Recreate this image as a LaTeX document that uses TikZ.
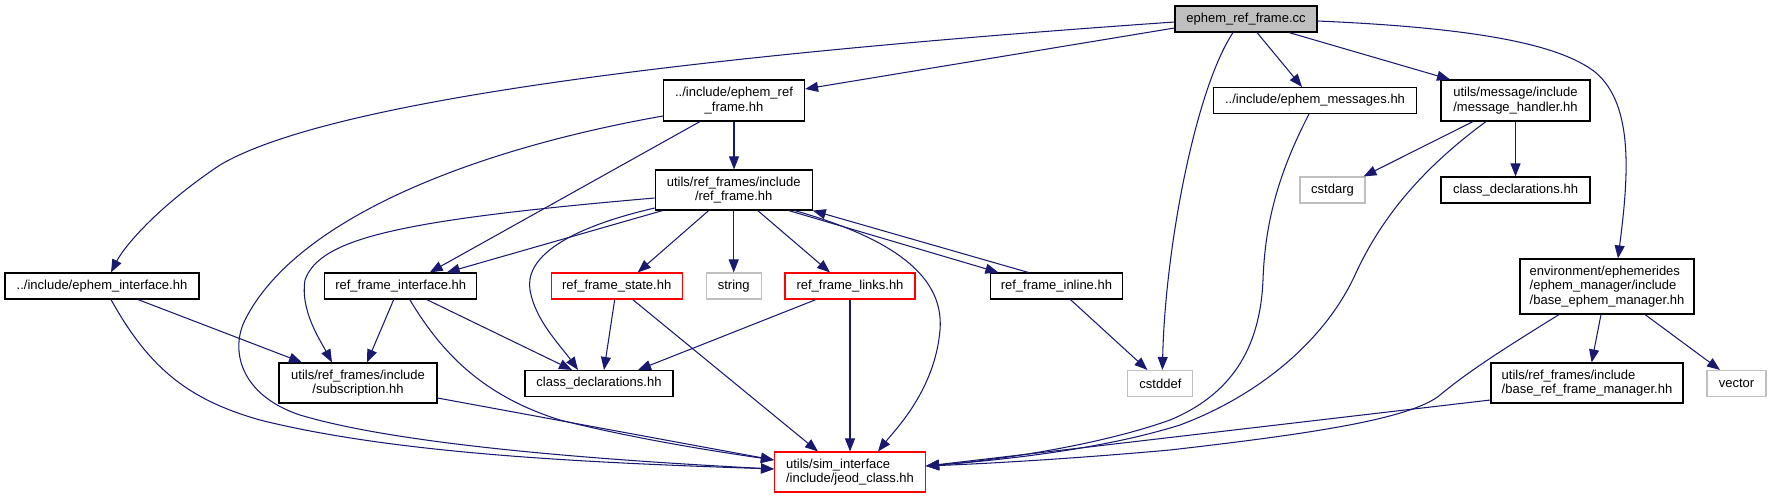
\documentclass[tikz,border=0pt]{standalone}
\usepackage{fontspec}
\setmainfont{Liberation Sans}
\usetikzlibrary{arrows.meta}
\definecolor{edgeblue}{RGB}{25,25,112}
\definecolor{extgray}{RGB}{191,191,191}

\begin{document}
\begin{tikzpicture}[x=1pt, y=-1pt,
    box/.style={draw=black, fill=white, line width=1.1pt, inner sep=0pt, font=\fontsize{13}{14.6}\selectfont, minimum height=26pt},
    rootbox/.style={box, fill=extgray},
    extbox/.style={box, draw=extgray},
    truncbox/.style={box, draw=red},
    arrow/.style={-{Triangle[length=13pt, width=10pt]}, draw=edgeblue, line width=1.05pt}
  ]
    \useasboundingbox (0,0) rectangle (1771,499);
    \node[rootbox, minimum width=142pt] (root) at (1246,19) {ephem\_ref\_frame.cc};
    \node[box, minimum width=141pt, minimum height=41pt, align=center] (erfhh) at (734,100.5) {../include/ephem\_ref\\\_frame.hh};
    \node[box, minimum width=203pt] (emsg) at (1315,100.5) {../include/ephem\_messages.hh};
    \node[box, minimum width=149pt, minimum height=41pt, align=left] (mhandler) at (1515.5,100.5) {utils/message/include\\/message\_handler.hh};
    \node[box, minimum width=157pt, minimum height=40pt, align=center] (rfhh) at (733.7,190) {utils/ref\_frames/include\\/ref\_frame.hh};
    \node[extbox, minimum width=65pt] (cstdarg) at (1332.5,190) {cstdarg};
    \node[box, minimum width=149pt] (cdeclR) at (1515.5,190) {class\_declarations.hh};
    \node[box, minimum width=194pt] (einter) at (102,286) {../include/ephem\_interface.hh};
    \node[box, minimum width=152pt] (rfinter) at (400.7,286) {ref\_frame\_interface.hh};
    \node[truncbox, minimum width=131pt] (rfstate) at (616.7,286) {ref\_frame\_state.hh};
    \node[extbox, minimum width=55pt] (string) at (733.7,286) {string};
    \node[truncbox, minimum width=130pt] (rflinks) at (850,286) {ref\_frame\_links.hh};
    \node[box, minimum width=132pt] (rfinline) at (1056.4,286) {ref\_frame\_inline.hh};
    \node[box, minimum width=174pt, minimum height=55pt, align=left] (bem) at (1607,286.5) {environment/ephemerides\\/ephem\_manager/include\\/base\_ephem\_manager.hh};
    \node[box, minimum width=158pt, minimum height=40pt, align=center] (subs) at (358,383) {utils/ref\_frames/include\\/subscription.hh};
    \node[box, minimum width=148pt] (cdeclM) at (599,383.5) {class\_declarations.hh};
    \node[extbox, minimum width=65pt] (cstddef) at (1160.4,383.5) {cstddef};
    \node[box, minimum width=192pt, minimum height=40pt, align=left] (bfrm) at (1587,383) {utils/ref\_frames/include\\/base\_ref\_frame\_manager.hh};
    \node[extbox, minimum width=59pt] (vector) at (1736.5,383.5) {vector};
    \node[truncbox, minimum width=151pt, minimum height=40pt, align=left] (jeod) at (850,472) {utils/sim\_interface\\/include/jeod\_class.hh};
    % edges out of the source file
    \draw[arrow] ([yshift=-3pt]root.west) .. controls (700,55) and (330,100) .. (220,165) .. controls (160,205) and (125,245) .. ([xshift=9pt]einter.north);
    \draw[arrow] ([yshift=-9pt]root.west) -- ([yshift=11.5pt]erfhh.east);
    \draw[arrow] ([xshift=-13pt]root.south) .. controls (1195,90) and (1165,250) .. ([xshift=2pt]cstddef.north);
    \draw[arrow] ([xshift=11pt]root.south) -- ([xshift=-13pt]emsg.north);
    \draw[arrow] ([xshift=43pt]root.south) -- ([xshift=-65.5pt]mhandler.north);
    \draw[arrow] ([yshift=-2pt]root.east) .. controls (1480,28) and (1560,45) .. (1595,72) .. controls (1635,105) and (1628,180) .. ([xshift=11pt]bem.north);
    % ephem_ref_frame.hh
    \draw[arrow] (erfhh.south) -- (erfhh.south |- rfhh.north);
    \draw[arrow] ([xshift=-34pt]erfhh.south) -- ([xshift=29pt]rfinter.north);
    \draw[arrow] ([yshift=-15.5pt]erfhh.west) .. controls (470,150) and (295,220) .. (245,320) .. controls (230,350) and (240,395) .. (300,415) .. controls (400,445) and (600,460) .. ([yshift=3pt]jeod.west);
    % ref_frame.hh
    \draw[arrow] ([xshift=8pt]rfhh.south west) -- ([xshift=46pt]rfinter.north);
    \draw[arrow] ([yshift=-8pt]rfhh.west) .. controls (400,220) and (320,238) .. (305,280) .. controls (300,310) and (320,340) .. ([xshift=-26pt]subs.north);
    \draw[arrow] ([yshift=-18pt]rfhh.west) .. controls (560,230) and (525,260) .. (530,290) .. controls (535,320) and (560,345) .. ([xshift=-21pt]cdeclM.north);
    \draw[arrow] ([xshift=-25pt]rfhh.south) -- ([xshift=21pt]rfstate.north);
    \draw[arrow] (rfhh) -- (string);
    \draw[arrow] ([xshift=24pt]rfhh.south) -- ([xshift=-20pt]rflinks.north);
    \draw[arrow] ([xshift=61pt]rfhh.south) .. controls (880,235) and (945,270) .. (940,330) .. controls (935,390) and (895,430) .. ([xshift=28pt]jeod.north);
    \draw[arrow] ([xshift=55pt]rfhh.south) -- ([xshift=-58pt]rfinline.north);
    \draw[arrow] ([xshift=-28pt]rfinline.north) -- (rfhh.south east);
    % second row
    \draw[arrow] ([xshift=-7pt]rfinter.south) -- ([xshift=9pt]subs.north);
    \draw[arrow] ([xshift=26pt]rfinter.south) -- ([xshift=-27pt]cdeclM.north);
    \draw[arrow] ([xshift=9pt]rfinter.south) .. controls (440,350) and (480,395) .. (560,420) .. controls (640,440) and (720,452) .. ([yshift=12pt]jeod.west);
    \draw[arrow] ([xshift=36pt]einter.south) -- ([xshift=-56pt]subs.north);
    \draw[arrow] ([xshift=9pt]einter.south) .. controls (150,370) and (190,400) .. (260,420) .. controls (400,455) and (600,463) .. ([yshift=3pt]jeod.west);
    \draw[arrow] ([yshift=-15pt]subs.east) -- ([yshift=12pt]jeod.west);
    \draw[arrow] ([xshift=-2pt]rfstate.south) -- ([xshift=5pt]cdeclM.north);
    \draw[arrow] ([xshift=16pt]rfstate.south) -- ([xshift=-32pt]jeod.north);
    \draw[arrow] ([xshift=-34pt]rflinks.south) -- ([xshift=39pt]cdeclM.north);
    \draw[arrow] (rflinks) -- (jeod);
    \draw[arrow] ([xshift=14pt]rfinline.south) -- ([xshift=-13pt]cstddef.north);
    % right side
    \draw[arrow] ([xshift=-42.5pt]mhandler.south) -- ([xshift=31pt]cstdarg.north);
    \draw[arrow] (mhandler) -- (cdeclR);
    \draw[arrow] ([xshift=-29.5pt]mhandler.south) .. controls (1420,170) and (1380,220) .. (1355,275) .. controls (1325,340) and (1260,395) .. (1180,425) .. controls (1100,450) and (1000,460) .. ([yshift=6pt]jeod.east);
    \draw[arrow] ([xshift=-6pt]emsg.south) .. controls (1280,170) and (1265,220) .. (1263,280) .. controls (1260,350) and (1230,395) .. (1170,420) .. controls (1100,445) and (1000,460) .. ([yshift=6pt]jeod.east);
    \draw[arrow] ([xshift=-6pt]bem.south) -- ([xshift=4.6pt]bfrm.north);
    \draw[arrow] ([xshift=38pt]bem.south) -- ([xshift=-16.5pt]vector.north);
    \draw[arrow] ([xshift=-48pt]bem.south) .. controls (1510,345) and (1470,370) .. (1440,395) .. controls (1410,420) and (1300,435) .. (1170,450) .. controls (1080,458) and (1000,463) .. ([yshift=6pt]jeod.east);
    \draw[arrow] ([yshift=-17pt]bfrm.west) -- ([yshift=6pt]jeod.east);
  \end{tikzpicture}
\end{document}
